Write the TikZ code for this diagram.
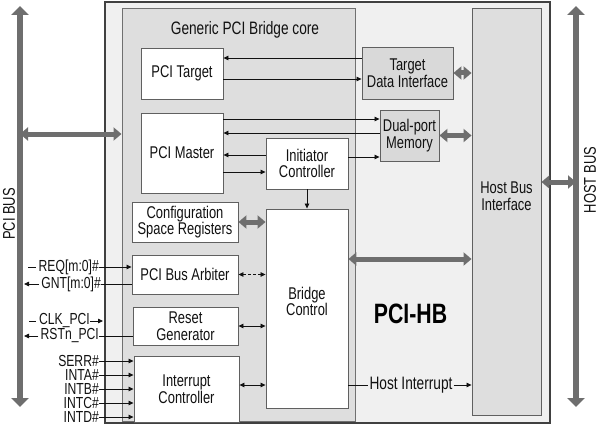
\documentclass[tikz,border=0pt]{standalone}
\usepackage{fontspec}
\setmainfont{Liberation Sans}[FakeStretch=0.76]
\usetikzlibrary{arrows.meta,calc}
\definecolor{outerfill}{HTML}{F0F0F0}
\definecolor{outerline}{HTML}{404040}
\definecolor{corefill}{HTML}{DEDEDE}
\definecolor{coreline}{HTML}{707070}
\definecolor{boxline}{HTML}{606060}
\definecolor{blockgray}{HTML}{D9D9D9}
\definecolor{busgray}{HTML}{6E6E6E}
\definecolor{txt}{HTML}{111111}
\begin{document}
\begin{tikzpicture}[x=1pt,y=-1pt,
  box/.style={draw=boxline, line width=0.9pt, fill=white, align=center, inner sep=0pt, text=txt, font=\fontsize{17}{16.5}\selectfont},
  gbox/.style={box, fill=blockgray},
  lbl/.style={inner sep=1pt, text=txt, align=center, font=\fontsize{17}{16.5}\selectfont},
  siglbl/.style={inner sep=0pt, text=txt, font=\fontsize{16}{17}\selectfont},
  sig/.style={draw=txt, line width=0.8pt},
  arr/.style={sig, -{Triangle[length=5pt,width=4.5pt]}},
  darr/.style={sig, {Triangle[length=5pt,width=4.5pt]}-{Triangle[length=5pt,width=4.5pt]}},
  fat/.style={draw=busgray, line width=5pt, {Triangle[length=8pt,width=13pt]}-{Triangle[length=8pt,width=13pt]}},
  bus/.style={draw=busgray, line width=5.5pt, {Triangle[length=9pt,width=17pt]}-{Triangle[length=9pt,width=17pt]}}
]
\useasboundingbox (0,0) rectangle (600,428);

% containers
\node[draw=outerline, line width=1.2pt, fill=outerfill, minimum width=445pt, minimum height=421pt, inner sep=0pt] (outer) at (327.5,212.5) {};
\node[draw=coreline, line width=1pt, fill=corefill, minimum width=233pt, minimum height=412pt, inner sep=0pt] (core) at (238.5,215) {};
\node[lbl, font=\fontsize{18}{18}\selectfont] (title) at (245,30) {Generic PCI Bridge core};

% host bus interface
\node[gbox, fill=corefill, minimum width=69pt, minimum height=407pt] (hbi) at (506.5,211.5) {};
\node[lbl] (hbitext) at (506.5,196) {Host Bus\\Interface};

% blocks
\node[box, minimum width=82pt, minimum height=51pt] (pt) at (182,73.5) {PCI Target};
\node[box, minimum width=82pt, minimum height=80pt] (pm) at (182,153) {PCI Master};
\node[gbox, minimum width=91pt, minimum height=52pt] (tdi) at (407.5,73) {Target\\Data Interface};
\node[gbox, minimum width=59pt, minimum height=51pt] (dpm) at (409.5,135.5) {Dual-port\\Memory};
\node[box, minimum width=82pt, minimum height=51pt] (init) at (307,163.5) {Initiator\\Controller};
\node[box, minimum width=82pt, minimum height=199pt] (bc) at (307,308.5) {};
\node[lbl] (bctext) at (307,301.5) {Bridge\\Control};
\node[box, minimum width=106pt, minimum height=40pt] (csr) at (185,222) {Configuration\\Space Registers};
\node[box, minimum width=106pt, minimum height=39pt] (arb) at (185,274.5) {PCI Bus Arbiter};
\node[box, minimum width=105pt, minimum height=38pt] (rg) at (185.5,326) {Reset\\Generator};
\node[box, minimum width=105pt, minimum height=66pt] (ic) at (186.5,389) {Interrupt\\Controller};

\node[inner sep=0pt, text=black, font=\fontsize{28}{28}\selectfont\bfseries] (hb) at (410.5,314) {PCI-HB};

% thin connectors, upper part
\path ([yshift=15pt]tdi.west) coordinate (t1) ([yshift=-6pt]tdi.west) coordinate (t2);
\draw[arr] (t1) -- (t1 -| pt.east);
\draw[arr] (t2 -| pt.east) -- (t2);
\path ([yshift=16.5pt]dpm.west) coordinate (m1) ([yshift=2.5pt]dpm.west) coordinate (m2);
\draw[arr] (m1 -| pm.east) -- (m1);
\draw[arr] (m2) -- (m2 -| pm.east);
\path ([yshift=8.5pt]init.west) coordinate (i1) ([yshift=-8.5pt]init.west) coordinate (i2) ([yshift=6.5pt]init.east) coordinate (i3);
\draw[arr] (i1) -- (i1 -| pm.east);
\draw[arr] (i2 -| pm.east) -- (i2);
\draw[arr] (i3) -- (i3 -| dpm.west);
\draw[arr] (init.south) -- (bc.north);

% host interrupt
\node[siglbl, inner sep=1pt, font=\fontsize{18}{18}\selectfont, fill=outerfill] (hint) at (411,385) {Host Interrupt};
\draw[sig] (hint.west -| bc.east) -- (hint.west);
\draw[arr] (hint.east) -- (hint.east -| hbi.west);

% block to bridge control
\draw[darr, dash pattern=on 3pt off 2pt] (arb.east) -- (arb.east -| bc.west);
\draw[darr] (rg.east) -- (rg.east -| bc.west);
\draw[darr] (ic.east |- hint) -- (bc.west |- hint);

% left-side signals
\node[siglbl, anchor=east] (req) at (99,267) {REQ[m:0]\#};
\coordinate (reqs) at (28,267);
\draw[sig] (reqs) -- ([xshift=-2pt]req.west);
\draw[arr] (req.east) -- (req.east -| arb.west);
\node[siglbl, anchor=east] (gnt) at (101,284) {GNT[m:0]\#};
\coordinate (gnte) at (24,284);
\draw[arr] ([xshift=-2pt]gnt.west) -- (gnte);
\draw[sig] (gnt.east -| arb.west) -- (gnt.east);
\node[siglbl, anchor=east] (clk) at (90,321) {CLK\_PCI};
\coordinate (clks) at (29,321);
\coordinate (clke) at (103,321);
\draw[sig] (clks) -- ([xshift=-3pt]clk.west);
\draw[arr] (clk.east) -- (clke);
\node[siglbl, anchor=east] (rst) at (99,336) {RSTn\_PCI};
\coordinate (rste) at (24,336);
\draw[arr] ([xshift=-2pt]rst.west) -- (rste);
\draw[sig] (rst.east -| rg.west) -- (rst.east);
\foreach \n/\t/\yy in {serr/SERR\#/361, inta/INTA\#/375, intb/INTB\#/389, intc/INTC\#/403, intd/INTD\#/417}{
  \node[siglbl, anchor=east] (\n) at (99,\yy) {\t};
  \draw[arr] (\n.east) -- (\n.east -| ic.west);
}

% buses
\coordinate (pbtop) at (20,6);
\coordinate (pbbot) at (20,407);
\coordinate (hbtop) at (576,6);
\coordinate (hbbot) at (576,407);
\path ([yshift=81pt]core.west) coordinate (pc);
\draw[fat] (pc -| pbtop) -- (pc);
\path ([yshift=29.5pt]hbi.east) coordinate (hc);
\draw[fat] (hc) -- (hc -| hbtop);
\draw[fat] (tdi.east) -- (tdi.east -| hbi.west);
\draw[fat] (dpm.east) -- (dpm.east -| hbi.west);
\draw[fat] (csr.east) -- (csr.east -| bc.west);
\path ([yshift=49.5pt]bc.east) coordinate (bh);
\draw[fat] (bh) -- (bh -| hbi.west);
\draw[bus] (pbtop) -- (pbbot);
\draw[bus] (hbtop) -- (hbbot);
\node[lbl, rotate=90] (pcibus) at (9,214) {PCI BUS};
\node[lbl, rotate=90] (hostbus) at (590,180) {HOST BUS};
\end{tikzpicture}
\end{document}
